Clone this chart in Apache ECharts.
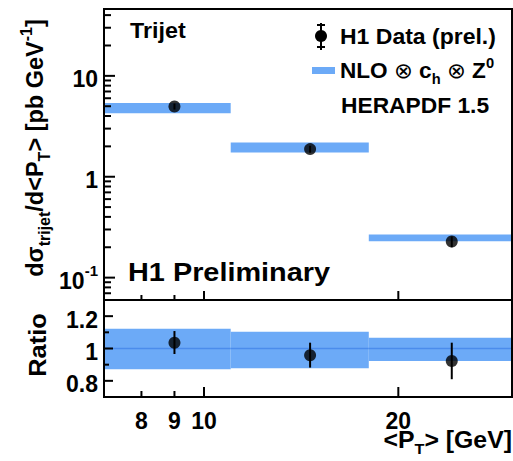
<!DOCTYPE html>
<html><head><meta charset="utf-8">
<script src="https://cdn.jsdelivr.net/npm/echarts@6/dist/echarts.min.js"></script>
<style>html,body{margin:0;padding:0;background:#fff;}#c{width:513px;height:461px;}</style>
</head><body><div id="c"></div>
<script>
// ---- data ----
const binLow = [7, 11, 18];
const binHigh = [11, 18, 30];
const dataX = [9, 14.6, 24.2];
const dataY = [4.97, 1.88, 0.228];
const dataErrLow = [4.63, 1.73, 0.200];
const dataErrHigh = [5.32, 2.03, 0.256];
const theoryLow = [4.27, 1.74, 0.229];
const theoryHigh = [5.37, 2.19, 0.267];
const ratioY = [1.036, 0.958, 0.923];
const ratioErrLow = [0.966, 0.882, 0.81];
const ratioErrHigh = [1.108, 1.036, 1.036];
const ratioBandLow = [0.872, 0.878, 0.923];
const ratioBandHigh = [1.122, 1.103, 1.066];
const ratioRef = 1;
// ---- tick values ----
const xTickMajor = [10, 20];
const xTickMinor = [8, 9];
const xTickLabels = [8, 9, 10, 20];
const yTickMajor = [0.1, 1, 10];
const yTickMinor = [0.07, 0.08, 0.09, 0.2, 0.3, 0.4, 0.5, 0.6, 0.7, 0.8, 0.9, 2, 3, 4, 5, 6, 7, 8, 9, 20, 30, 40];
const yTickLabels = [0.1, 1, 10];
const rTickMajor = [0.8, 1, 1.2];
const rTickMinor = [0.9, 1.1];
const rTickLabels = [0.8, 1, 1.2];

const FONT = "'Liberation Sans', Arial, Helvetica, sans-serif";
const BAND = '#6caaf7';
const CLINE = '#4b8cec';
const REF_X = 10, REF_Y = 1;

function csRect(cs) { return {x: cs.x, y: cs.y, width: cs.width, height: cs.height}; }

function bandRender(params, api) {
  const a = api.coord([api.value(0), api.value(3)]);
  const b = api.coord([api.value(1), api.value(2)]);
  const r = echarts.graphic.clipRectByRect({x: a[0], y: a[1], width: b[0] - a[0], height: b[1] - a[1]}, csRect(params.coordSys));
  return r && {type: 'rect', shape: r, style: {fill: BAND}};
}
function ratioBandRender(params, api) {
  const a = api.coord([api.value(0), api.value(3)]);
  const b = api.coord([api.value(1), api.value(2)]);
  const r = echarts.graphic.clipRectByRect({x: a[0], y: a[1], width: b[0] - a[0], height: b[1] - a[1]}, csRect(params.coordSys));
  const c1 = api.coord([api.value(0), api.value(4)]);
  const c2 = api.coord([api.value(1), api.value(4)]);
  const x1 = Math.max(c1[0], params.coordSys.x), x2 = Math.min(c2[0], params.coordSys.x + params.coordSys.width);
  return {type: 'group', children: [
    {type: 'rect', shape: r, style: {fill: BAND}},
    {type: 'line', shape: {x1: x1, y1: c1[1], x2: x2, y2: c2[1]}, style: {stroke: CLINE, lineWidth: 1.5}}
  ]};
}
function errRender(params, api) {
  const a = api.coord([api.value(0), api.value(1)]);
  const b = api.coord([api.value(0), api.value(2)]);
  return {type: 'line', shape: {x1: a[0], y1: a[1], x2: b[0], y2: b[1]}, style: {stroke: '#000', lineWidth: 2}};
}
// ticks: one series per axis; third value 1 = major, 0 = minor
function tickSeries(kind, gi, major, minor, lenMajor, lenMinor) {
  const vals = major.map(v => [v, 1]).concat(minor.map(v => [v, 0]));
  return {
    type: 'custom', xAxisIndex: gi, yAxisIndex: gi, z: 20, silent: true, clip: false,
    data: vals.map(d => kind === 'x' ? [d[0], REF_Y, d[1]] : [REF_X, d[0], d[1]]),
    encode: {x: 0, y: 1},
    renderItem: function (params, api) {
      const cs = params.coordSys;
      const len = api.value(2) ? lenMajor : lenMinor;
      if (kind === 'x') {
        const px = api.coord([api.value(0), REF_Y])[0];
        const yb = cs.y + cs.height;
        return {type: 'line', shape: {x1: px, y1: yb, x2: px, y2: yb - len}, style: {stroke: '#000', lineWidth: 2}};
      }
      const py = api.coord([REF_X, api.value(1)])[1];
      return {type: 'line', shape: {x1: cs.x, y1: py, x2: cs.x + len, y2: py}, style: {stroke: '#000', lineWidth: 2}};
    }
  };
}
function powLabel(v) {
  const e = Math.round(Math.log10(v));
  if (e === 0) return '{m|1}';
  if (e === 1) return '{m|10}';
  return '{m|10}{sup|' + (e < 0 ? '-' : '') + Math.abs(e) + '}';
}
const labelRich = {
  m: {fontSize: 23, fontWeight: 'bold', fontFamily: FONT, lineHeight: 30, verticalAlign: 'bottom'},
  sup: {fontSize: 15, fontWeight: 'bold', fontFamily: FONT, lineHeight: 15, verticalAlign: 'top'}
};
function yLabelRender(fmt) {
  return function (params, api) {
    const cs = params.coordSys;
    const py = api.coord([REF_X, api.value(1)])[1];
    return {type: 'text', x: cs.x - 6, y: py, style: {text: fmt(api.value(1)), align: 'right', verticalAlign: 'middle', fill: '#000', rich: labelRich}};
  };
}
function xLabelRender(params, api) {
  const cs = params.coordSys;
  const px = api.coord([api.value(0), REF_Y])[0];
  return {type: 'text', x: px, y: cs.y + cs.height + 20, style: {text: '{m|' + api.value(0) + '}', align: 'center', verticalAlign: 'middle', fill: '#000', rich: labelRich}};
}

function richSet(main, sub, lh) {
  return {
    m: {fontSize: main, fontWeight: 'bold', fontFamily: FONT, lineHeight: lh, verticalAlign: 'middle'},
    o: {fontSize: main, fontWeight: 'normal', fontFamily: "'DejaVu Sans', " + FONT, lineHeight: lh, verticalAlign: 'middle'},
    sub: {fontSize: sub, fontWeight: 'bold', fontFamily: FONT, lineHeight: sub, verticalAlign: 'bottom'},
    sup: {fontSize: sub, fontWeight: 'bold', fontFamily: FONT, lineHeight: sub, verticalAlign: 'top'}
  };
}
const richT = richSet(23.5, 16, 34);
const richX = richSet(23, 15, 33);
const richL = richSet(21.5, 14, 30);

const chart = echarts.init(document.getElementById('c'), null, {renderer: 'svg'});
chart.setOption({
  animation: false,
  grid: [
    {left: 104, right: 1, top: 9, height: 291, show: true, borderColor: '#000', borderWidth: 2, z: 10},
    {left: 104, right: 1, top: 300, height: 97, show: true, borderColor: '#000', borderWidth: 2, z: 10}
  ],
  xAxis: [
    {type: 'log', gridIndex: 0, min: 7, max: 30, axisLine: {show: false}, axisTick: {show: false}, axisLabel: {show: false}, splitLine: {show: false}},
    {type: 'log', gridIndex: 1, min: 7, max: 30, axisLine: {show: false}, axisTick: {show: false}, axisLabel: {show: false}, splitLine: {show: false}}
  ],
  yAxis: [
    {type: 'log', gridIndex: 0, min: 0.06, max: 46, axisLine: {show: false}, axisTick: {show: false}, axisLabel: {show: false}, splitLine: {show: false}},
    {type: 'value', gridIndex: 1, min: 0.7, max: 1.3, axisLine: {show: false}, axisTick: {show: false}, axisLabel: {show: false}, splitLine: {show: false}}
  ],
  graphic: [
    {type: 'text', x: 130, y: 30, scaleX: 1.06, style: {text: 'Trijet', font: 'bold 22px ' + FONT, fill: '#000', verticalAlign: 'middle'}},
    {type: 'text', x: 128, y: 272, scaleX: 1.11, style: {text: 'H1 Preliminary', font: 'bold 26px ' + FONT, fill: '#000', verticalAlign: 'middle'}},
    // legend: data marker
    {type: 'line', shape: {x1: 321, y1: 23, x2: 321, y2: 50}, style: {stroke: '#000', lineWidth: 2}},
    {type: 'line', shape: {x1: 317, y1: 25, x2: 325, y2: 25}, style: {stroke: '#000', lineWidth: 2}},
    {type: 'line', shape: {x1: 317, y1: 47, x2: 325, y2: 47}, style: {stroke: '#000', lineWidth: 2}},
    {type: 'circle', shape: {cx: 321, cy: 36, r: 6}, style: {fill: '#000'}},
    {type: 'text', x: 340, y: 37, scaleX: 1.07, style: {text: '{m|H1 Data (prel.)}', fill: '#000', verticalAlign: 'middle', rich: richL}},
    // legend: theory
    {type: 'rect', shape: {x: 312, y: 67, width: 23, height: 7}, style: {fill: BAND}},
    {type: 'text', x: 340, y: 71, scaleX: 1.05, style: {text: '{m|NLO }{o|⊗}{m| c}{sub|h}{m| }{o|⊗}{m| Z}{sup|0}', fill: '#000', verticalAlign: 'middle', rich: richL}},
    {type: 'text', x: 341, y: 106, scaleX: 1.06, style: {text: '{m|HERAPDF 1.5}', fill: '#000', verticalAlign: 'middle', rich: richL}},
    // axis titles
    {type: 'text', x: 35, y: 148, rotation: Math.PI / 2, style: {text: '{m|dσ}{sub|trijet}{m|/d<P}{sub|T}{m|> [pb GeV}{sup|-1}{m|]}', fill: '#000', align: 'center', verticalAlign: 'middle', rich: richT}},
    {type: 'text', x: 38, y: 345, rotation: Math.PI / 2, scaleX: 1.08, style: {text: '{m|Ratio}', fill: '#000', align: 'center', verticalAlign: 'middle', rich: richT}},
    {type: 'text', x: 512, y: 440, scaleX: 1.08, style: {text: '{m|<P}{sub|T}{m|> [GeV]}', fill: '#000', align: 'right', verticalAlign: 'middle', rich: richX}}
  ],
  series: [
    // upper panel
    {name: 'NLO', type: 'custom', xAxisIndex: 0, yAxisIndex: 0, z: 1, renderItem: bandRender,
     data: binLow.map((b, i) => [b, binHigh[i], theoryLow[i], theoryHigh[i]]), encode: {x: [0, 1], y: [2, 3]}},
    {name: 'H1 err', type: 'custom', xAxisIndex: 0, yAxisIndex: 0, z: 3, renderItem: errRender,
     data: dataX.map((x, i) => [x, dataErrLow[i], dataErrHigh[i]]), encode: {x: 0, y: [1, 2]}},
    {name: 'H1 Data (prel.)', type: 'scatter', xAxisIndex: 0, yAxisIndex: 0, z: 4, symbol: 'circle', symbolSize: 12,
     itemStyle: {color: '#000'}, data: dataX.map((x, i) => [x, dataY[i]])},
    // lower panel
    {name: 'Ratio band', type: 'custom', xAxisIndex: 1, yAxisIndex: 1, z: 1, renderItem: ratioBandRender,
     data: binLow.map((b, i) => [b, binHigh[i], ratioBandLow[i], ratioBandHigh[i], ratioRef]), encode: {x: [0, 1], y: [2, 3, 4]}},
    {name: 'Ratio err', type: 'custom', xAxisIndex: 1, yAxisIndex: 1, z: 3, renderItem: errRender,
     data: dataX.map((x, i) => [x, ratioErrLow[i], ratioErrHigh[i]]), encode: {x: 0, y: [1, 2]}},
    {name: 'Ratio', type: 'scatter', xAxisIndex: 1, yAxisIndex: 1, z: 4, symbol: 'circle', symbolSize: 12,
     itemStyle: {color: '#000'}, data: dataX.map((x, i) => [x, ratioY[i]])},
    // ticks
    tickSeries('x', 0, xTickMajor, xTickMinor, 9, 5),
    tickSeries('y', 0, yTickMajor, yTickMinor, 11, 7),
    tickSeries('x', 1, xTickMajor, xTickMinor, 10, 6),
    tickSeries('y', 1, rTickMajor, rTickMinor, 9, 5),
    // tick labels
    {type: 'custom', xAxisIndex: 0, yAxisIndex: 0, z: 6, silent: true, data: yTickLabels.map(v => [REF_X, v]), encode: {x: 0, y: 1}, renderItem: yLabelRender(powLabel)},
    {type: 'custom', xAxisIndex: 1, yAxisIndex: 1, z: 6, silent: true, data: rTickLabels.map(v => [REF_X, v]), encode: {x: 0, y: 1}, renderItem: yLabelRender(v => '{m|' + v + '}')},
    {type: 'custom', xAxisIndex: 1, yAxisIndex: 1, z: 6, silent: true, clip: false, data: xTickLabels.map(v => [v, REF_Y]), encode: {x: 0, y: 1}, renderItem: xLabelRender}
  ]
});
</script></body></html>
